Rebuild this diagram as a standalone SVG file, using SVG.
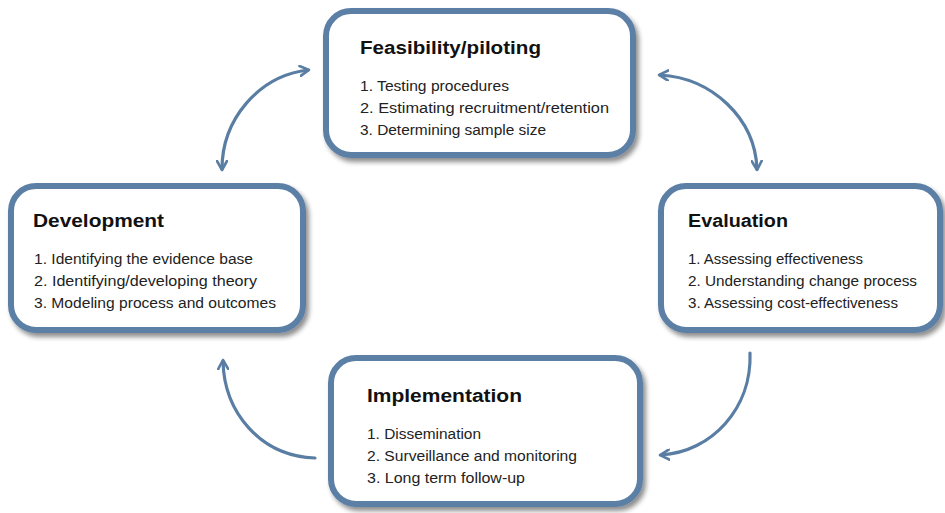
<svg xmlns="http://www.w3.org/2000/svg" width="945" height="513" viewBox="0 0 945 513">
<defs>
<filter id="sh" x="-10%" y="-10%" width="125%" height="130%">
<feGaussianBlur in="SourceAlpha" stdDeviation="2.5"/>
<feOffset dx="3" dy="4" result="b"/>
<feComponentTransfer><feFuncA type="linear" slope="0.45"/></feComponentTransfer>
<feMerge><feMergeNode/><feMergeNode in="SourceGraphic"/></feMerge>
</filter>
<marker id="ah" viewBox="0 0 12 12" refX="9" refY="6" markerWidth="12" markerHeight="12" markerUnits="userSpaceOnUse" orient="auto-start-reverse">
<path d="M1,1 L10,6 L1,11" fill="none" stroke="#5a7ea3" stroke-width="2.6" stroke-linecap="round" stroke-linejoin="round"/>
</marker>
</defs>
<style>
.box{fill:#ffffff;stroke:#5b7fa6;stroke-width:6;filter:url(#sh)}
.t{font-family:"Liberation Sans",Arial,sans-serif;font-weight:bold;font-size:18px;fill:#111}
.i{font-family:"Liberation Sans",Arial,sans-serif;font-size:14px;fill:#222}
.c{fill:none;stroke:#5a7ea3;stroke-width:3.2;stroke-linecap:round}
</style>
<rect width="945" height="513" fill="#ffffff"/>
<g id="connectors">
<path class="c" d="M222,169 C222,120 258,76 308,70" marker-start="url(#ah)" marker-end="url(#ah)"/>
<path class="c" d="M660,75 C712,78 755,118 757,169" marker-start="url(#ah)" marker-end="url(#ah)"/>
<path class="c" d="M315,458 C260,456 224,412 223,361" marker-end="url(#ah)"/>
<path class="c" d="M750,353 C752,408 712,452 661,455" marker-end="url(#ah)"/>
</g>
<g id="feasibility">
<rect class="box" x="326" y="11" width="307" height="144" rx="25"/>
<text class="t" x="360" y="54" textLength="181" lengthAdjust="spacingAndGlyphs">Feasibility/piloting</text>
<text class="i" x="360" y="91" textLength="149" lengthAdjust="spacingAndGlyphs">1. Testing procedures</text>
<text class="i" x="360" y="113" textLength="249" lengthAdjust="spacingAndGlyphs">2. Estimating recruitment/retention</text>
<text class="i" x="360" y="135" textLength="186" lengthAdjust="spacingAndGlyphs">3. Determining sample size</text>
</g>
<g id="development">
<rect class="box" x="11" y="186" width="292" height="144" rx="25"/>
<text class="t" x="33" y="227" textLength="131" lengthAdjust="spacingAndGlyphs">Development</text>
<text class="i" x="34" y="264" textLength="219" lengthAdjust="spacingAndGlyphs">1. Identifying the evidence base</text>
<text class="i" x="34" y="286" textLength="223" lengthAdjust="spacingAndGlyphs">2. Identifying/developing theory</text>
<text class="i" x="34" y="308" textLength="242" lengthAdjust="spacingAndGlyphs">3. Modeling process and outcomes</text>
</g>
<g id="evaluation">
<rect class="box" x="661" y="186" width="279" height="144" rx="25"/>
<text class="t" x="688" y="227" textLength="100" lengthAdjust="spacingAndGlyphs">Evaluation</text>
<text class="i" x="688" y="264" textLength="175" lengthAdjust="spacingAndGlyphs">1. Assessing effectiveness</text>
<text class="i" x="688" y="286" textLength="229" lengthAdjust="spacingAndGlyphs">2. Understanding change process</text>
<text class="i" x="688" y="308" textLength="210" lengthAdjust="spacingAndGlyphs">3. Assessing cost-effectiveness</text>
</g>
<g id="implementation">
<rect class="box" x="331" y="358" width="309" height="146" rx="25"/>
<text class="t" x="367" y="402" textLength="155" lengthAdjust="spacingAndGlyphs">Implementation</text>
<text class="i" x="367" y="439" textLength="114" lengthAdjust="spacingAndGlyphs">1. Dissemination</text>
<text class="i" x="367" y="461" textLength="210" lengthAdjust="spacingAndGlyphs">2. Surveillance and monitoring</text>
<text class="i" x="367" y="483" textLength="158" lengthAdjust="spacingAndGlyphs">3. Long term follow-up</text>
</g>
</svg>
